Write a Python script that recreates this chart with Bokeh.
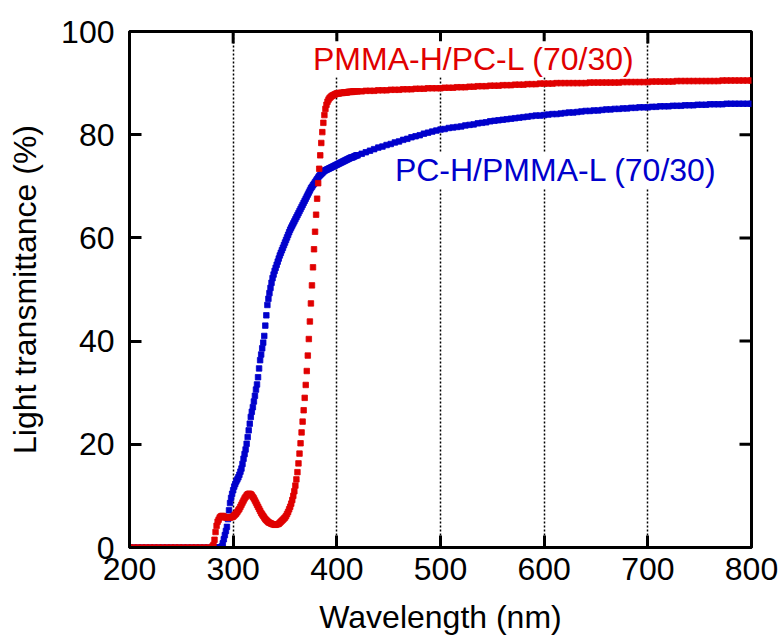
import math
from bokeh.plotting import figure
from bokeh.models import Range1d, FixedTicker, Label
from bokeh.embed import file_html
from bokeh.resources import INLINE

# sampling grid (nm)
wl_low = list(range(200, 280, 4))     # 20 points
wl_mid = list(range(280, 420, 1))     # 140 points
wl_high = list(range(420, 801, 4))    # 96 points

# PMMA-H/PC-L (70/30)  -- red
red_low = [0.0, 0.0, 0.0, 0.0, 0.0, 0.0, 0.0, 0.0, 0.0, 0.0,
           0.0, 0.0, 0.0, 0.0, 0.0, 0.0, 0.0, 0.0, 0.0, 0.0]
red_mid = [0.2, 0.5, 1.5, 3.0, 4.2, 5.0, 5.4, 5.8, 6.0, 6.1,
           6.1, 6.0, 5.9, 5.8, 5.8, 5.8, 5.8, 5.8, 5.9, 5.9,
           6.0, 6.2, 6.4, 6.6, 6.9, 7.2, 7.5, 7.9, 8.3, 8.7,
           9.1, 9.5, 9.8, 10.1, 10.3, 10.4, 10.4, 10.3, 10.1, 9.8,
           9.5, 9.1, 8.7, 8.3, 7.9, 7.5, 7.1, 6.7, 6.4, 6.1,
           5.8, 5.5, 5.3, 5.1, 4.9, 4.8, 4.7, 4.6, 4.5, 4.5,
           4.4, 4.4, 4.5, 4.5, 4.6, 4.8, 5.0, 5.2, 5.4, 5.6,
           5.8, 6.1, 6.5, 6.9, 7.4, 7.9, 8.5, 9.2, 10.0, 10.9,
           12.0, 13.2, 14.6, 16.3, 18.2, 20.2, 22.3, 24.4, 26.6, 29.0,
           31.5, 34.2, 37.2, 40.4, 43.8, 47.3, 50.8, 54.3, 57.8, 61.2,
           64.5, 67.6, 70.6, 73.4, 76.0, 78.4, 80.5, 82.3, 83.8, 85.0,
           85.8, 86.4, 86.8, 87.1, 87.3, 87.5, 87.6, 87.7, 87.8, 87.9,
           88.0, 88.0, 88.0, 88.1, 88.1, 88.1, 88.1, 88.2, 88.2, 88.2,
           88.2, 88.3, 88.3, 88.3, 88.3, 88.3, 88.4, 88.4, 88.4, 88.4]
red_high = [88.4, 88.4, 88.5, 88.5, 88.5, 88.6, 88.6, 88.6, 88.7, 88.7,
            88.7, 88.8, 88.8, 88.8, 88.9, 88.9, 88.9, 89.0, 89.0, 89.0, 89.0,
            89.1, 89.1, 89.1, 89.2, 89.2, 89.2, 89.3, 89.3, 89.4, 89.4,
            89.4, 89.5, 89.5, 89.5, 89.6, 89.6, 89.6, 89.7, 89.7, 89.7,
            89.8, 89.8, 89.8, 89.9, 89.9,
            89.9, 89.9, 90.0, 90.0, 90.0, 90.0, 90.0, 90.0, 90.0, 90.0,
            90.1, 90.1, 90.1, 90.1, 90.1, 90.1, 90.1, 90.1, 90.2, 90.2,
            90.2, 90.2, 90.2, 90.2, 90.2,
            90.3, 90.3, 90.3, 90.3, 90.3, 90.3, 90.4, 90.4, 90.4, 90.4,
            90.4, 90.4, 90.4, 90.4, 90.4, 90.4, 90.4, 90.5, 90.5, 90.5,
            90.5, 90.5, 90.5, 90.5, 90.5]

# PC-H/PMMA-L (70/30)  -- blue
blue_low = [0.0, 0.0, 0.0, 0.0, 0.0, 0.0, 0.0, 0.0, 0.0, 0.0,
            0.0, 0.0, 0.0, 0.0, 0.0, 0.0, 0.0, 0.0, 0.0, 0.0]
blue_mid = [0.0, 0.0, 0.0, 0.0, 0.0, 0.0, 0.0, 0.0, 0.0, 0.2,
            0.8, 1.6, 2.4, 3.2, 4.0, 5.5, 7.2, 8.6, 9.6, 10.4,
            11.1, 11.8, 12.3, 12.8, 13.2, 13.6, 14.1, 14.7, 15.3, 16.2,
            17.2, 18.1, 19.0, 20.1, 21.4, 22.7, 24.0, 25.3, 26.3, 27.2,
            28.3, 29.4, 30.6, 31.6, 33.0, 34.7, 36.3, 37.4, 38.6, 39.7,
            41.0, 43.0, 45.0, 47.0, 48.2, 49.3, 50.3, 51.3, 52.2, 52.9,
            53.6, 54.2, 54.8, 55.4, 56.0, 56.6, 57.1, 57.6, 58.1, 58.6,
            59.1, 59.6, 60.1, 60.6, 61.1, 61.6, 62.0, 62.4, 62.8, 63.2,
            63.6, 64.0, 64.4, 64.8, 65.2, 65.6, 66.0, 66.4, 66.8, 67.2,
            67.6, 68.0, 68.4, 68.8, 69.2, 69.6, 69.9, 70.2, 70.5, 70.8,
            71.1, 71.4, 71.7, 72.0, 72.2, 72.4, 72.6, 72.8, 73.0, 73.1,
            73.2, 73.3, 73.4, 73.5, 73.6, 73.7, 73.8, 73.9, 74.0, 74.1,
            74.2, 74.3, 74.4, 74.5, 74.6, 74.7, 74.8, 74.9, 75.0, 75.1,
            75.2, 75.3, 75.4, 75.5, 75.6, 75.6, 75.7, 75.8, 75.9, 76.0]
blue_high = [76.0, 76.3, 76.6, 76.9, 77.2, 77.5, 77.7, 78.0, 78.2, 78.5,
             78.7, 79.0, 79.2, 79.5, 79.7, 79.9, 80.2, 80.4, 80.6, 80.8, 81.0,
             81.1, 81.3, 81.4, 81.5, 81.6, 81.8, 81.9, 82.0, 82.2, 82.3,
             82.4, 82.6, 82.7, 82.8, 82.9, 83.0, 83.1, 83.2, 83.3, 83.4,
             83.5, 83.6, 83.7, 83.7, 83.8,
             83.9, 84.0, 84.0, 84.1, 84.2, 84.3, 84.3, 84.4, 84.5, 84.6,
             84.6, 84.7, 84.7, 84.8, 84.9, 84.9, 85.0, 85.0, 85.1, 85.1,
             85.2, 85.2, 85.3, 85.3, 85.3,
             85.4, 85.4, 85.5, 85.5, 85.5, 85.6, 85.6, 85.6, 85.7, 85.7,
             85.7, 85.8, 85.8, 85.8, 85.9, 85.9, 85.9, 85.9, 86.0, 86.0,
             86.0, 86.0, 86.0, 86.0, 86.0]

x_ticks = [200, 300, 400, 500, 600, 700, 800]
y_ticks = [0, 20, 40, 60, 80, 100]
grid_ticks = [300, 400, 500, 600, 700]
x_min, x_max = 200, 800
y_min, y_max = 0, 100

label_red = "PMMA-H/PC-L (70/30)"
label_blue = "PC-H/PMMA-L (70/30)"

wl = wl_low + wl_mid + wl_high
red = red_low + red_mid + red_high
blue = blue_low + blue_mid + blue_high
assert len(wl) == len(red) == len(blue), (len(wl), len(red), len(blue))

RED = "#E00000"
BLUE = "#0000CC"
FONT = "Liberation Sans"

p = figure(width=778, height=637, output_backend="svg", toolbar_location=None,
           x_range=Range1d(x_min, x_max), y_range=Range1d(y_min, y_max),
           min_border_left=129, min_border_right=27, min_border_top=31,
           min_border_bottom=90)
p.outline_line_color = "black"
p.outline_line_width = 3
p.background_fill_color = "white"
p.border_fill_color = "white"

# grid
p.ygrid.visible = False
p.xgrid.ticker = FixedTicker(ticks=grid_ticks)
p.xgrid.grid_line_color = "black"
p.xgrid.grid_line_dash = "2 2"
p.xgrid.grid_line_width = 1.5

xa = p.xaxis[0]
ya = p.yaxis[0]
xa.ticker = FixedTicker(ticks=x_ticks)
ya.ticker = FixedTicker(ticks=y_ticks)
for ax in (xa, ya):
    ax.axis_line_width = 3
    ax.axis_line_color = "black"
    ax.major_tick_in = 12
    ax.major_tick_out = 0
    ax.major_tick_line_width = 3
    ax.major_tick_line_color = "black"
    ax.minor_tick_in = 0
    ax.minor_tick_out = 0
    ax.minor_tick_line_color = None
    ax.major_label_text_font = FONT
    ax.major_label_text_color = "black"
    ax.major_label_text_font_size = "32px"
    ax.axis_label_text_font = FONT
    ax.axis_label_text_font_size = "32px"
    ax.axis_label_text_font_style = "normal"
    ax.axis_label_text_color = "black"
xa.major_label_standoff = 10
ya.major_label_standoff = 15
xa.axis_label = "Wavelength (nm)"
ya.axis_label = "Light transmittance (%)"
xa.axis_label_standoff = 16
ya.axis_label_standoff = 15

# inward ticks on the top and right frame edges
p.ray(x=x_ticks, y=[y_max] * len(x_ticks), length=12, length_units="screen",
      angle=-math.pi / 2, line_color="black", line_width=3)
p.ray(x=[x_max] * len(y_ticks), y=y_ticks, length=12, length_units="screen",
      angle=math.pi, line_color="black", line_width=3)

# data
p.scatter(wl, blue, marker="square", size=5.5, fill_color=BLUE,
          line_color=BLUE, line_width=0.8)
p.scatter(wl, red, marker="square", size=5.5, fill_color=RED,
          line_color=RED, line_width=0.8)

p.add_layout(Label(x=377, y=94.6, text=label_red, text_color=RED,
                   text_font=FONT, text_font_size="32px",
                   text_baseline="alphabetic", text_align="left",
                   background_fill_color="white"))
p.add_layout(Label(x=456, y=73.1, text=label_blue, text_color=BLUE,
                   text_font=FONT, text_font_size="32px",
                   text_baseline="alphabetic", text_align="left",
                   background_fill_color="white"))

open("out.html", "w").write(file_html(p, INLINE))
